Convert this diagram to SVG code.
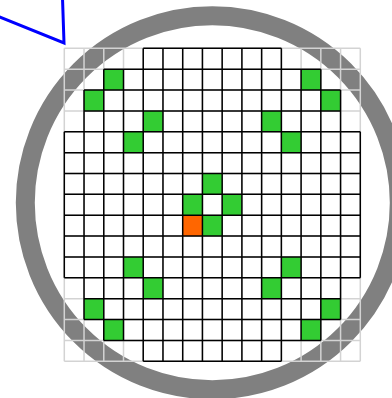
<svg xmlns="http://www.w3.org/2000/svg" width="392" height="398" viewBox="0 0 392 398">
<style>
.ring{fill:none;stroke:#808080;stroke-width:19}
.lg{fill:none;stroke:#d3d3d3;stroke-width:1.5}
.bk{fill:none;stroke:#000000;stroke-width:1.5}
.gn{fill:#33cc33;stroke:none}
.og{fill:#ff6600;stroke:none}
.notch{fill:none;stroke:#0000ff;stroke-width:3;stroke-linejoin:miter}
</style>
<rect x="0" y="0" width="392" height="398" fill="#ffffff"/>
<g id="wafer">
<circle class="ring" cx="212.3" cy="202.8" r="187"/>
</g>
<g id="notch">
<polyline class="notch" points="-10,13 64,43 62.4,-5"/>
</g>
<g id="grid-outer">
<path class="lg" d="M64.3,48.3V361.3M84.03,48.3V361.3M103.77,48.3V361.3M123.5,48.3V361.3M143.23,48.3V361.3M162.97,48.3V361.3M182.7,48.3V361.3M202.43,48.3V361.3M222.17,48.3V361.3M241.9,48.3V361.3M261.63,48.3V361.3M281.37,48.3V361.3M301.1,48.3V361.3M320.83,48.3V361.3M340.57,48.3V361.3M360.3,48.3V361.3
M64.3,48.3H360.3M64.3,69.17H360.3M64.3,90.03H360.3M64.3,110.9H360.3M64.3,131.77H360.3M64.3,152.63H360.3M64.3,173.5H360.3M64.3,194.37H360.3M64.3,215.23H360.3M64.3,236.1H360.3M64.3,256.97H360.3M64.3,277.83H360.3M64.3,298.7H360.3M64.3,319.57H360.3M64.3,340.43H360.3M64.3,361.3H360.3"/>
</g>
<g id="dies-marked">
<rect class="gn" x="103.77" y="69.17" width="19.73" height="20.87"/>
<rect class="gn" x="84.03" y="90.03" width="19.73" height="20.87"/>
<rect class="gn" x="143.23" y="110.9" width="19.73" height="20.87"/>
<rect class="gn" x="123.5" y="131.77" width="19.73" height="20.87"/>
<rect class="gn" x="301.1" y="69.17" width="19.73" height="20.87"/>
<rect class="gn" x="320.83" y="90.03" width="19.73" height="20.87"/>
<rect class="gn" x="261.63" y="110.9" width="19.73" height="20.87"/>
<rect class="gn" x="281.37" y="131.77" width="19.73" height="20.87"/>
<rect class="gn" x="123.5" y="256.97" width="19.73" height="20.87"/>
<rect class="gn" x="143.23" y="277.83" width="19.73" height="20.87"/>
<rect class="gn" x="84.03" y="298.7" width="19.73" height="20.87"/>
<rect class="gn" x="103.77" y="319.57" width="19.73" height="20.87"/>
<rect class="gn" x="281.37" y="256.97" width="19.73" height="20.87"/>
<rect class="gn" x="261.63" y="277.83" width="19.73" height="20.87"/>
<rect class="gn" x="320.83" y="298.7" width="19.73" height="20.87"/>
<rect class="gn" x="301.1" y="319.57" width="19.73" height="20.87"/>
<rect class="gn" x="202.43" y="173.5" width="19.73" height="20.87"/>
<rect class="gn" x="182.7" y="194.37" width="19.73" height="20.87"/>
<rect class="gn" x="222.17" y="194.37" width="19.73" height="20.87"/>
<rect class="gn" x="202.43" y="215.23" width="19.73" height="20.87"/>
<rect class="og" x="182.7" y="215.23" width="19.73" height="20.87"/>
</g>
<g id="grid-inner">
<path class="bk" d="M143.23,48.3H281.37M103.77,69.17H320.83M84.03,90.03H340.57M84.03,110.9H340.57M64.3,131.77H360.3M64.3,152.63H360.3M64.3,173.5H360.3M64.3,194.37H360.3M64.3,215.23H360.3M64.3,236.1H360.3M64.3,256.97H360.3M64.3,277.83H360.3M84.03,298.7H340.57M84.03,319.57H340.57M103.77,340.43H320.83M143.23,361.3H281.37
M64.3,131.77V277.83M84.03,90.03V319.57M103.77,69.17V340.43M123.5,69.17V340.43M143.23,48.3V361.3M162.97,48.3V361.3M182.7,48.3V361.3M202.43,48.3V361.3M222.17,48.3V361.3M241.9,48.3V361.3M261.63,48.3V361.3M281.37,48.3V361.3M301.1,69.17V340.43M320.83,69.17V340.43M340.57,90.03V319.57M360.3,131.77V277.83"/>
</g>
</svg>
